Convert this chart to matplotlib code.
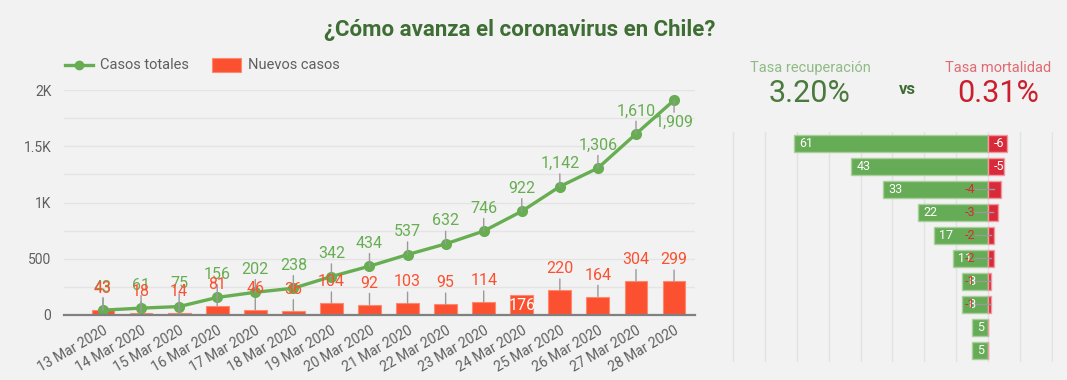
import numpy as np
import matplotlib
matplotlib.use('Agg')
import matplotlib.pyplot as plt
from matplotlib.lines import Line2D
from matplotlib.patches import Rectangle

plt.rcParams['font.family'] = ['Roboto', 'DejaVu Sans']

# data
fechas = ['13 Mar 2020', '14 Mar 2020', '15 Mar 2020', '16 Mar 2020', '17 Mar 2020',
          '18 Mar 2020', '19 Mar 2020', '20 Mar 2020', '21 Mar 2020', '22 Mar 2020',
          '23 Mar 2020', '24 Mar 2020', '25 Mar 2020', '26 Mar 2020', '27 Mar 2020',
          '28 Mar 2020']
casos_totales = [43, 61, 75, 156, 202, 238, 342, 434, 537, 632, 746, 922, 1142, 1306, 1610, 1909]
nuevos_casos = [43, 18, 14, 81, 46, 36, 104, 92, 103, 95, 114, 176, 220, 164, 304, 299]

recuperados = [61, 43, 33, 22, 17, 11, 8, 8, 5, 5]
fallecidos = [-6, -5, -4, -3, -2, -2, -1, -1, 0, 0]

W, H = 1067, 380
BG = '#f2f2f2'
GREEN = '#67ad52'
ORANGE = '#fb5130'
RED = '#d92a3a'
GRAY_TXT = '#5f5f5f'
LEADER = '#9a9a9a'


def fx(x):
    return x / W


def fy(y):
    return 1 - y / H


fig = plt.figure(figsize=(W / 100, H / 100), dpi=100, facecolor=BG)

# title
fig.text(fx(520), fy(30), '¿Cómo avanza el coronavirus en Chile?', ha='center', va='center',
         fontsize=16, fontweight='bold', color='#3f6e35')

# ---- left chart: totals line + new cases bars
ax = fig.add_axes([fx(64), fy(315), 631 / W, 225 / H])
ax.set_facecolor(BG)
x = np.arange(len(fechas))

ax.bar(x, nuevos_casos, width=0.6, color=ORANGE, edgecolor='#fd8a70', linewidth=0.8, zorder=2)
ax.plot(x, casos_totales, color=GREEN, lw=2.4, marker='o', markersize=7, zorder=3)

ax.set_xlim(-1.024, 15.55)
ax.set_ylim(0, 2000)
ax.set_yticks([0, 500, 1000, 1500, 2000])
ax.set_yticklabels(['0', '500', '1K', '1.5K', '2K'])
ax.set_yticks(np.arange(250, 2000, 500), minor=True)
ax.grid(axis='y', which='both', color='#e4e4e4', lw=1, zorder=0)
ax.tick_params(axis='y', which='both', length=0, pad=9, labelsize=10, labelcolor=GRAY_TXT)
ax.set_xticks(x)
ax.set_xticklabels(fechas, rotation=30, ha='right', va='top', rotation_mode='anchor')
ax.tick_params(axis='x', length=0, pad=6, labelsize=10, labelcolor=GRAY_TXT)
for s in ['top', 'right', 'left']:
    ax.spines[s].set_visible(False)
ax.spines['bottom'].set_color('#808080')
ax.spines['bottom'].set_linewidth(1.6)
ax.spines['bottom'].set_zorder(4)

arrow = dict(arrowstyle='-', color=LEADER, lw=1, shrinkA=0, shrinkB=0)

# labels on totals
for i, v in enumerate(casos_totales):
    off = -16 if i == len(casos_totales) - 1 else 16.5
    ax.annotate(f'{v:,}', (i, v), xytext=(0, off), textcoords='offset points',
                ha='center', va='center', fontsize=11.5, color=GREEN,
                arrowprops=arrow, zorder=5)

# labels on new cases
for i, v in enumerate(nuevos_casos):
    if v == 176:
        ax.annotate(f'{v}', (i, v), xytext=(0, -7.5), textcoords='offset points',
                    ha='center', va='center', fontsize=11.5, color='white', zorder=6)
    else:
        ax.annotate(f'{v}', (i, v), xytext=(0, 15.5), textcoords='offset points',
                    ha='center', va='center', fontsize=11.5, color=ORANGE,
                    arrowprops=arrow, zorder=6)

# legend drawn by hand
fig.add_artist(Line2D([fx(65), fx(93)], [fy(65), fy(65)], color=GREEN, lw=2.4))
fig.add_artist(Line2D([fx(79)], [fy(65)], color=GREEN, marker='o', markersize=6))
fig.text(fx(100), fy(65), 'Casos totales', ha='left', va='center', fontsize=10.5, color=GRAY_TXT)
fig.add_artist(Rectangle((fx(212), fy(72)), 29 / W, 14 / H, facecolor=ORANGE,
                         edgecolor='#fd8a70', lw=0.8, transform=fig.transFigure))
fig.text(fx(248), fy(65), 'Nuevos casos', ha='left', va='center', fontsize=10.5, color=GRAY_TXT)

# ---- right side: rates
tasa_rec = recuperados[0] / casos_totales[-1] * 100
tasa_mort = -fallecidos[0] / casos_totales[-1] * 100
fig.text(fx(810), fy(68), 'Tasa recuperación', ha='center', va='center', fontsize=10.5, color='#8fbb85')
fig.text(fx(810), fy(93), f'{tasa_rec:.2f}%', ha='center', va='center', fontsize=22, color='#4b7a3e')
fig.text(fx(907), fy(90), 'vs', ha='center', va='center', fontsize=12, fontweight='bold', color='#3f6b35')
fig.text(fx(998), fy(68), 'Tasa mortalidad', ha='center', va='center', fontsize=10.5, color='#e06b73')
fig.text(fx(998), fy(93), f'{tasa_mort:.2f}%', ha='center', va='center', fontsize=22, color='#cc1f2d')

ax2 = fig.add_axes([fx(731.5), fy(362), 321.8 / W, 230 / H])
ax2.set_facecolor(BG)
rows = np.arange(len(recuperados))
rec = np.array(recuperados)
fal = np.array(fallecidos)
ax2.barh(rows, -rec, height=0.78, color='#66ab55', edgecolor='#a9d09c', lw=1, zorder=2)
ax2.barh(rows, -fal, height=0.78, color=RED, edgecolor='#ee9aa0', lw=1, zorder=2)
ax2.set_xlim(-80.5, 20.5)
ax2.set_ylim(9.5, -0.5)
ax2.set_xticks(np.arange(-80, 21, 10))
ax2.set_yticks([])
ax2.grid(axis='x', color='#e2e2e2', lw=1, zorder=0)
ax2.tick_params(axis='x', length=0, labelbottom=False)
for s in ax2.spines.values():
    s.set_visible(False)

u = 3.186  # pixels per unit in the bar panel
for i, v in enumerate(recuperados):
    ax2.text(-v + 5.5 / u, i, f'{v}', ha='left', va='center', fontsize=9, color='white', zorder=4)
for i, v in enumerate(fallecidos):
    if v == 0:
        continue
    if abs(v) >= 5:
        ax2.text(6 / u, i, f'{v}', ha='left', va='center', fontsize=9, color='white', zorder=4)
    else:
        ax2.plot([-13 / u, -v / 2], [i, i], color=LEADER, lw=1, zorder=4)
        ax2.text(-13 / u, i, f'{v}', ha='right', va='center', fontsize=9, color=RED, zorder=5)

fig.savefig('out.png', dpi=100, facecolor=BG)
